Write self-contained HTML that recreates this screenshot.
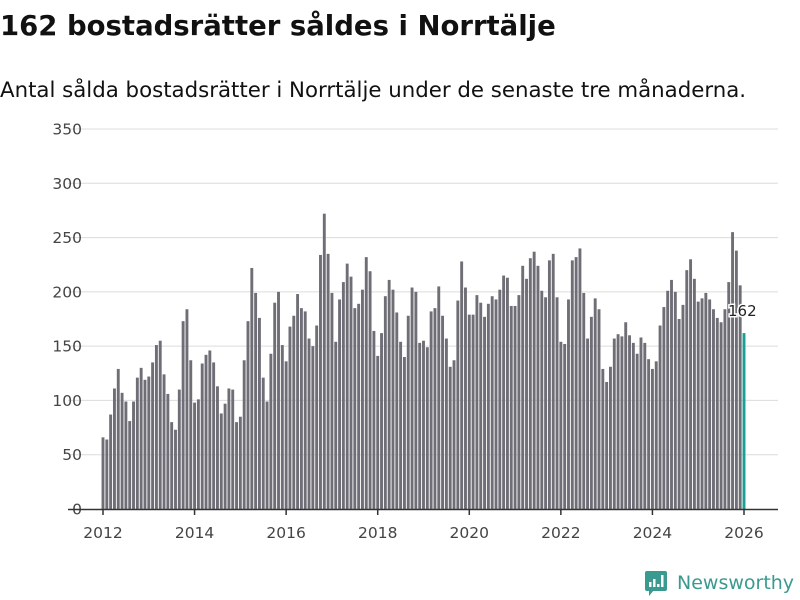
<!DOCTYPE html>
<html><head><meta charset="utf-8">
<style>
html,body{margin:0;padding:0;background:#fff;width:800px;height:600px;overflow:hidden;font-family:"Liberation Sans","DejaVu Sans",sans-serif;}
svg text{font-family:"DejaVu Sans","Liberation Sans",sans-serif;}
</style></head>
<body>
<svg width="800" height="600">
<text x="0" y="35" font-size="27.5" font-weight="bold" fill="#111">162 bostadsrätter såldes i Norrtälje</text>
<text x="0" y="97" font-size="21.3" fill="#111">Antal sålda bostadsrätter i Norrtälje under de senaste tre månaderna.</text>
<g id="grid"></g>
<g id="bars"></g>
<g id="axis"></g>
<g>
<rect x="645" y="571" width="22" height="20" rx="2" fill="#3a9a8f"/>
<polygon points="649,590 654,590 649,596" fill="#3a9a8f"/>
<rect x="649" y="582" width="2.5" height="5" fill="#fff"/><rect x="653" y="579" width="2.5" height="8" fill="#fff"/><rect x="657" y="584" width="2.5" height="3" fill="#fff"/><rect x="661" y="575" width="2.5" height="12" fill="#fff"/>
<text x="677" y="589" font-size="19" fill="#3a9a8f" font-family="Liberation Sans,sans-serif">Newsworthy</text>
</g>
</svg>
<script>
const yTicks=[0,50,100,150,200,250,300,350];
const xTickYears=[2012,2014,2016,2018,2020,2022,2024,2026];
const values=[66,64,87,111,129,107,99,81,99,121,130,119,
122,135,151,155,124,106,80,73,110,173,184,137,
98,101,134,142,146,135,113,88,97,111,110,80,
85,137,173,222,199,176,121,99,143,190,200,151,
136,168,178,198,185,182,157,150,169,234,272,235,
199,154,193,209,226,214,185,189,202,232,219,164,
141,162,196,211,202,181,154,140,178,204,200,153,
155,149,182,185,205,178,157,131,137,192,228,204,
179,179,197,190,177,189,196,193,202,215,213,187,
187,197,224,212,231,237,224,201,195,229,235,195,
154,152,193,229,232,240,199,157,177,194,184,129,
117,131,157,161,159,172,160,153,143,158,153,138,
129,136,169,186,201,211,200,175,188,220,230,212,
191,194,199,193,184,176,172,184,209,255,238,206,162];
const startYear=2012;
const NS="http://www.w3.org/2000/svg";
const y0=509,pxPer=380/350;
const x0=103,monthPx=(744-103)/168;
function yS(v){return y0-v*pxPer;}
function xS(i){return x0+i*monthPx;}
function mk(t,a,p){const e=document.createElementNS(NS,t);for(const k in a)e.setAttribute(k,a[k]);p.appendChild(e);return e;}
const grid=document.getElementById('grid'),bars=document.getElementById('bars'),axis=document.getElementById('axis');
yTicks.forEach(v=>{
 if(v>0){const l=mk('line',{x1:68,x2:778,y1:yS(v),y2:yS(v),stroke:'#dcdcdc','stroke-width':1},grid);
 
 }
 const t=mk('text',{x:82,y:yS(v)+5.5,'text-anchor':'end','font-size':15.5,fill:'#444'},grid);
 t.textContent=v;
 
 
});
const bw=2.9;
values.forEach((v,i)=>{
 const last=i===values.length-1;
 const r=mk('rect',{x:xS(i)-bw/2,y:yS(v),width:bw,height:v*pxPer,fill:last?'#1a9e96':'#6f6e76'},bars);
 
 
});
const li=values.length-1;
const lbl=mk('text',{x:xS(li)-16,y:yS(values[li])-17,'font-size':15,fill:'#222',stroke:'#fff','stroke-width':3,'paint-order':'stroke'},bars);
lbl.textContent=values[li];


const ax=mk('line',{x1:68,x2:778,y1:y0+0.5,y2:y0+0.5,stroke:'#333','stroke-width':1.5},axis);


xTickYears.forEach(yr=>{
 const x=xS((yr-startYear)*12);
 const tk=mk('line',{x1:x,x2:x,y1:y0,y2:y0+6,stroke:'#333','stroke-width':1.5},axis);
 
 
 const t=mk('text',{x:x,y:538,'text-anchor':'middle','font-size':15.5,fill:'#444'},axis);
 t.textContent=yr;
 
 
});
</script>
</body></html>
